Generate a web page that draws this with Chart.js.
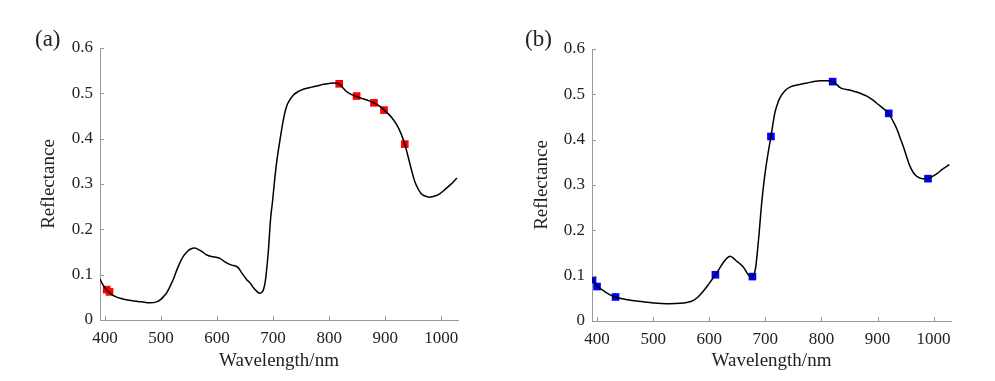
<!DOCTYPE html>
<html>
<head>
<meta charset="utf-8">
<script src="https://cdn.jsdelivr.net/npm/chart.js@4/dist/chart.umd.min.js"></script>
<style>
  html, body { margin: 0; padding: 0; background: #fff; }
  #wrap { position: relative; width: 995px; height: 381px; overflow: hidden; }
  canvas { position: absolute; top: 0; }
  .plabel { position: absolute; font-family: 'Liberation Serif', 'Times New Roman', serif; font-size: 23px; line-height: 23px; color: #222; }
</style>
</head>
<body>
<div id="wrap">
  <canvas id="ca" width="495" height="381" style="left:0px"></canvas>
  <canvas id="cb" width="500" height="381" style="left:495px"></canvas>
  <div class="plabel" style="left:35px; top:27px;">(a)</div>
  <div class="plabel" style="left:525px; top:27px;">(b)</div>
</div>
<script>
// ---- data ----
const wavelengthsA = [391,396,403,408,412,420,427,440,451,465,480,492,499,504,510,516,523,528,535,540,546,552,560,569,575,581,590,600,605,612,617,626,633,638,644,653,660,665,671,676,680,683,686,689,692,694,696,699,702,706,712,718,724,730,736,745,754,766,778,790,801,810,818,824,831,840,849,860,870,880,890,898,907,914,920,927,935,941,947,953,959,964,970,980,990,998,1007,1016,1022,1028];
const reflectanceA = [0.090,0.078,0.066,0.061,0.056,0.051,0.048,0.044,0.042,0.040,0.038,0.040,0.045,0.051,0.060,0.074,0.093,0.110,0.130,0.141,0.150,0.156,0.159,0.154,0.149,0.144,0.140,0.138,0.136,0.130,0.126,0.121,0.119,0.115,0.104,0.089,0.080,0.071,0.063,0.059,0.061,0.068,0.085,0.118,0.160,0.199,0.230,0.262,0.300,0.345,0.395,0.440,0.471,0.486,0.496,0.504,0.509,0.513,0.516,0.520,0.522,0.523,0.521,0.513,0.504,0.497,0.493,0.488,0.484,0.479,0.472,0.463,0.453,0.443,0.432,0.415,0.388,0.360,0.331,0.305,0.289,0.279,0.274,0.271,0.274,0.279,0.288,0.298,0.305,0.313];
const markerWlA = [403,408,818,849,880,898,935];
const markerRA  = [0.067,0.062,0.521,0.494,0.479,0.463,0.388];

const wavelengthsB = [391,392,400,410,420,433,445,455,470,485,497,510,530,548,560,571,580,589,600,611,618,625,631,637,642,646,655,660,664,671,677,680,683,686,689,692,696,700,704,710,717,722,726,735,744,759,774,789,798,810,820,827,832,839,848,857,870,881,892,902,911,920,928,935,940,946,952,958,964,970,980,990,998,1006,1016,1028];
const reflectanceB = [0.093,0.091,0.077,0.068,0.060,0.053,0.049,0.047,0.044,0.042,0.040,0.039,0.038,0.039,0.041,0.045,0.053,0.065,0.083,0.102,0.115,0.129,0.138,0.143,0.140,0.135,0.126,0.120,0.113,0.100,0.098,0.103,0.120,0.155,0.194,0.240,0.290,0.330,0.363,0.407,0.459,0.480,0.492,0.508,0.516,0.521,0.525,0.529,0.530,0.530,0.528,0.522,0.516,0.512,0.510,0.507,0.502,0.496,0.487,0.477,0.468,0.458,0.440,0.422,0.405,0.385,0.362,0.341,0.327,0.319,0.314,0.314,0.319,0.325,0.335,0.345];
const markerWlB = [392,400,433,611,677,710,820,920,990];
const markerRB  = [0.091,0.076,0.053,0.102,0.098,0.407,0.528,0.458,0.314];

const xTickValues = [400,500,600,700,800,900,1000];
const yTickValues = [0,0.1,0.2,0.3,0.4,0.5,0.6];
const xTitle = 'Wavelength/nm';
const yTitle = 'Reflectance';

// ---- rendering ----
const FONT = "'Liberation Serif', 'Times New Roman', serif";
const AXIS_COLOR = '#999999';
const TEXT_COLOR = '#222222';

const inwardTicks = {
  id: 'inwardTicks',
  afterDraw(chart) {
    const ctx = chart.ctx;
    const ca = chart.chartArea;
    const xs = chart.scales.x, ys = chart.scales.y;
    ctx.save();
    ctx.strokeStyle = AXIS_COLOR;
    ctx.lineWidth = 1;
    ctx.beginPath();
    xs.ticks.forEach(t => {
      const px = Math.round(xs.getPixelForValue(t.value)) + 0.5;
      ctx.moveTo(px, Math.round(ca.bottom));
      ctx.lineTo(px, Math.round(ca.bottom) - 4);
    });
    ys.ticks.forEach(t => {
      const py = Math.round(ys.getPixelForValue(t.value)) + 0.5;
      ctx.moveTo(Math.round(ca.left), py);
      ctx.lineTo(Math.round(ca.left) + 4, py);
    });
    ctx.stroke();
    ctx.restore();
  }
};

function makeChart(id, wl, refl, mWl, mR, mColor, geo) {
  const lineData = wl.map((w, i) => ({x: w, y: refl[i]}));
  const markData = mWl.map((w, i) => ({x: w, y: mR[i]}));
  return new Chart(document.getElementById(id), {
    type: 'line',
    data: {
      datasets: [
        {
          data: lineData,
          borderColor: '#000000',
          borderWidth: 1.5,
          pointRadius: 0,
          fill: false,
          cubicInterpolationMode: 'monotone',
          order: 0
        },
        {
          data: markData,
          showLine: false,
          pointStyle: 'rect',
          pointRadius: 5.4,
          pointBackgroundColor: mColor,
          pointBorderColor: mColor,
          pointBorderWidth: 0,
          order: 1
        }
      ]
    },
    options: {
      responsive: false,
      animation: false,
      devicePixelRatio: 1,
      layout: { padding: { left: 0, right: geo.padRight, top: geo.padTop, bottom: 0 } },
      plugins: { legend: { display: false }, tooltip: { enabled: false } },
      scales: {
        x: {
          type: 'linear',
          min: geo.xMin, max: geo.xMax,
          afterBuildTicks: s => { s.ticks = xTickValues.map(v => ({ value: v })); },
          afterFit: s => { s.height = geo.xHeight; },
          grid: { display: false, drawTicks: false },
          border: { display: true, color: AXIS_COLOR, width: 1 },
          ticks: {
            autoSkip: false, maxRotation: 0, minRotation: 0, padding: 8,
            color: TEXT_COLOR, font: { family: FONT, size: 17 },
            callback: v => String(v)
          },
          title: {
            display: true, text: xTitle, color: TEXT_COLOR,
            font: { family: FONT, size: 19, lineHeight: 1.2 },
            padding: { top: 0, bottom: 9 }
          }
        },
        y: {
          type: 'linear',
          min: 0, max: 0.6,
          afterBuildTicks: s => { s.ticks = yTickValues.map(v => ({ value: v })); },
          afterFit: s => { s.width = geo.yWidth; },
          grid: { display: false, drawTicks: false },
          border: { display: true, color: AXIS_COLOR, width: 1 },
          ticks: {
            padding: 7,
            color: TEXT_COLOR, font: { family: FONT, size: 17 },
            callback: v => (v === 0 ? '0' : Number(v).toFixed(1))
          },
          title: {
            display: true, text: yTitle, color: TEXT_COLOR,
            font: { family: FONT, size: 19, lineHeight: 1.2 },
            padding: { top: geo.yTitlePad, bottom: 0 }
          }
        }
      }
    },
    plugins: [inwardTicks]
  });
}

makeChart('ca', wavelengthsA, reflectanceA, markerWlA, markerRA, '#ff0000',
  { xMin: 391, xMax: 1030, padRight: 37, padTop: 48, xHeight: 61, yWidth: 100, yTitlePad: 38 });
makeChart('cb', wavelengthsB, reflectanceB, markerWlB, markerRB, '#0000ff',
  { xMin: 391, xMax: 1031, padRight: 44, padTop: 49, xHeight: 60, yWidth: 97, yTitlePad: 35.5 });
</script>
</body>
</html>
